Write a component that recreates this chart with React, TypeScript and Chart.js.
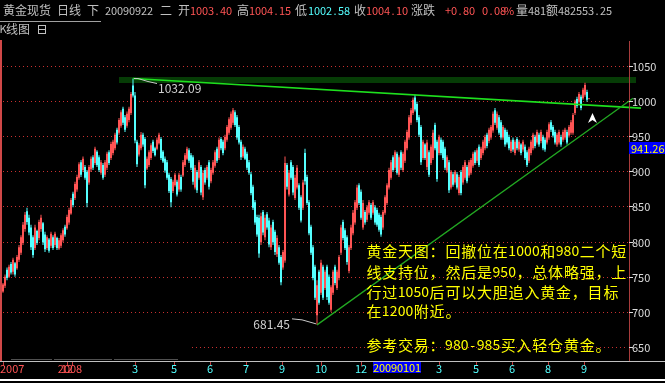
import React, { useEffect, useRef } from "react";
import { Chart, registerables } from "chart.js";

Chart.register(...registerables);

// ---- daily candles (about 1.6 trading days per bar), 2007-11 .. 2009-09-22 ----
const opens = [729,737,760,750,768,757,769,762,774,784,
798,818,843,834,820,806,791,815,805,818,
826,810,791,803,794,806,795,805,790,794,
802,821,819,827,840,868,862,874,891,913,
902,906,899,884,903,920,912,928,920,898,
909,895,905,927,919,926,933,959,955,965,
989,977,965,973,983,1022,1008,942,924,933,
952,946,904,909,919,942,933,932,940,946,
928,918,913,895,889,872,880,885,874,892,
894,909,918,930,923,920,877,899,891,906,
863,902,891,913,886,898,908,932,919,946,
942,933,945,955,962,969,984,977,963,942,
921,932,925,913,896,878,856,835,834,799,
842,806,839,830,792,828,814,782,792,778,
763,773,909,867,913,906,862,877,880,863,
848,926,892,856,821,792,764,695,757,727,
764,734,764,750,703,727,764,734,748,784,
828,816,806,758,791,812,827,848,880,871,
820,842,831,841,852,841,849,845,838,835,
820,841,855,877,891,920,905,925,895,927,
902,915,933,948,969,983,1005,996,977,963,
919,938,906,927,912,919,966,942,926,945,
942,932,901,913,877,896,884,896,869,899,
884,891,906,894,898,908,927,915,935,919,
926,933,952,943,948,958,987,962,977,970,
948,959,956,949,929,945,926,946,931,938,
931,935,927,915,926,933,949,941,952,943,
949,945,941,948,970,963,956,938,941,949,
945,948,956,951,955,955,983,1003,999,1006,
1004,1009,1013,1003.4];

const highs = [741,753,763,767,771,777,771,781,795,809,
828,842,848,838,824,809,824,817,831,838,
828,814,809,805,814,809,814,807,805,812,
819,824,838,848,862,871,885,895,913,916,
921,909,902,909,921,923,935,930,923,916,
912,916,928,930,942,945,955,962,976,987,
992,980,985,992,1013,1032.09,1013,945,940,956,
955,949,921,930,940,945,935,948,955,949,
930,921,916,898,892,888,898,888,898,895,
916,926,935,933,926,923,909,902,916,909,
902,905,909,916,905,916,930,935,948,949,
945,952,966,977,985,990,987,980,966,945,
938,935,928,916,899,881,859,838,838,841,
845,838,842,834,824,831,817,809,795,781,
788,921,912,902,916,909,895,909,883,866,
888,932,895,859,824,795,767,745,760,774,
767,760,767,753,738,760,767,760,781,824,
831,819,809,795,824,845,859,881,883,874,
859,845,852,859,855,859,852,848,841,838,
845,866,883,905,916,923,930,928,923,930,
928,945,959,980,990,1005,1009,999,980,966,
945,940,945,930,938,959,969,945,952,948,
945,935,923,916,902,899,902,899,895,902,
909,916,909,916,919,928,930,933,938,935,
945,952,955,962,966,985,990,985,980,973,
966,962,959,952,945,948,945,949,945,940,
945,938,930,935,945,955,952,959,955,959,
952,948,959,970,973,966,959,955,959,952,
959,962,959,966,973,983,1002,1006,1013,1009,
1019,1026,1016,1004.15];

const lows = [727,734,745,748,753,753,750,760,771,781,
795,814,824,809,788,777,788,795,802,814,
795,785,788,784,791,788,792,788,788,791,
799,807,817,824,838,849,859,871,888,892,
899,888,849,881,899,902,909,906,899,895,
888,892,902,909,916,923,930,938,952,962,
966,956,962,970,980,1005,940,906,921,930,
935,876,902,906,916,926,921,930,938,916,
912,898,888,869,849,869,878,864,871,871,
892,906,916,912,902,881,874,869,888,866,
859,881,888,874,883,895,905,912,916,930,
923,930,942,952,959,966,963,945,938,916,
919,916,902,895,866,845,824,807,777,795,
809,802,817,792,788,795,781,778,767,738,
760,770,874,864,888,866,859,874,845,827,
845,881,852,809,781,745,717,681.45,710,724,
717,731,717,710,700,724,738,731,745,781,
802,788,767,755,788,809,824,845,852,831,
817,824,828,838,831,838,824,821,814,807,
817,838,852,874,888,899,902,895,892,902,
899,912,930,945,966,980,985,970,949,909,
916,916,902,892,909,916,930,885,923,923,
916,902,898,869,874,878,881,874,866,866,
881,888,883,891,895,905,909,912,906,916,
923,930,933,940,945,955,966,959,952,945,
945,935,938,930,926,928,923,930,928,923,
928,916,906,912,923,930,933,938,935,940,
930,928,938,945,956,948,938,935,938,935,
942,945,938,948,952,952,980,990,997,987,
1002,1006,999,1002.58];

const closes = [739,750,748,764,756,774,753,778,792,806,
824,838,828,813,792,781,820,798,828,834,
799,789,806,787,811,791,811,791,802,809,
816,810,835,845,859,852,882,892,910,895,
918,891,855,906,918,905,932,909,902,913,
891,913,925,912,939,942,952,941,973,984,
969,959,982,989,1010,1008,944,910,937,952,
938,880,918,927,937,929,923,945,952,919,
914,901,891,872,856,885,895,867,895,874,
913,923,932,915,905,885,905,873,913,870,
898,884,906,878,902,913,927,915,945,933,
926,949,963,974,982,987,966,948,941,920,
935,918,905,898,869,848,827,810,783,836,
813,834,820,796,820,799,785,805,770,742,
785,912,878,898,891,870,891,905,848,830,
884,886,855,812,784,748,720,738,713,770,
720,757,721,713,735,757,741,757,778,820,
805,791,771,792,820,841,856,877,855,834,
855,827,849,856,834,856,827,824,817,810,
842,863,880,902,913,902,927,898,920,905,
925,942,956,977,987,1002,988,973,952,913,
942,919,941,895,935,955,933,889,949,926,
919,905,920,873,899,881,899,877,892,869,
906,913,886,913,916,925,912,930,909,932,
942,949,936,959,963,982,969,982,955,948,
963,938,941,933,942,931,942,933,942,926,
942,919,909,932,942,952,936,956,938,956,
933,931,956,967,959,951,941,952,956,938,
956,959,941,963,970,980,999,993,1010,990,
1016,1023,1002,1004.1];

const yTicks = [650, 700, 750, 800, 850, 900, 950, 1000, 1050];
const xTickLabels = ["2007", "12", "2008", "3", "5", "6", "7", "9", "10", "12", "3", "5", "6", "8", "9"];
const xTickIndex = [0, 32, 34.5, 66, 85.5, 103.5, 121.5, 139.5, 159, 179, 218, 236.5, 254.5, 272.5, 290.5];
const yearLabelCount = 3;
const boxDateLabel = "20090101";
const boxDateIndex = 185;

const peakIndex = 65;
const peakValue = 1032.09;
const lowIndex = 157;
const lowValue = 681.45;
const resistanceLine = [[65, 1032.09], [319, 990]];
const supportLine = [[157, 681.45], [315, 1004]];
const bandValue = 1030;
const bandRange = [58, 316.5];
const cursorValue = 941.26;

const headerName = "黄金现货";
const headerPeriod = "日线";
const headerDate = "20090922";
const headerWeekday = "二";
const headerChange = "+0.80";
const headerPct = "0.08%";
const headerVolume = "481";
const headerAmount = "482553.25";

const noteLines = [
  "黄金天图：回撤位在1000和980二个短",
  "线支持位，然后是950，总体略强，上",
  "行过1050后可以大胆追入黄金，目标",
  "在1200附近。",
  "",
  "参考交易：980-985买入轻仓黄金。",
];

const UP = "#ff5454";
const DOWN = "#54ffff";
const GRAY = "#c0c0c0";
const CJK = "'Noto Sans CJK SC'";

function cells(ctx: CanvasRenderingContext2D, text: string, x: number, y: number, wide: number, narrow: number, wideFont: string, narrowFont: string) {
  ctx.textAlign = "center";
  ctx.textBaseline = "middle";
  let cx = x;
  for (const ch of text) {
    const isWide = ch.charCodeAt(0) > 0x2e7f;
    const w = isWide ? wide : narrow;
    ctx.font = isWide ? wideFont : narrowFont;
    if (ch !== " ") ctx.fillText(ch, cx + w / 2, y);
    cx += w;
  }
  return cx;
}

const overlay = {
  id: "overlay",
  beforeDraw(chart: any) {
    const ctx = chart.ctx;
    ctx.save();
    ctx.fillStyle = "#000";
    ctx.fillRect(0, 0, chart.width, chart.height);
    ctx.restore();
  },
  beforeDatasetsDraw(chart: any) {
    const { ctx, chartArea: a, scales } = chart;
    const xs = scales.x, ys = scales.y;
    ctx.save();
    ctx.strokeStyle = "#c83030";
    ctx.lineWidth = 1;
    ctx.setLineDash([1, 3]);
    yTicks.forEach((v, k) => {
      const py = Math.round(ys.getPixelForValue(v)) + 0.5;
      const x0 = k === 0 ? 192 : a.left + 1;
      ctx.beginPath();
      ctx.moveTo(x0, py);
      ctx.lineTo(a.right - 1, py);
      ctx.stroke();
    });
    ctx.setLineDash([]);
    // faint dashes above the time axis
    ctx.fillStyle = "#505050";
    ctx.fillRect(11, 359, 41, 1);
    ctx.fillRect(54, 359, 58, 1);
    ctx.fillRect(114, 359, 64, 1);
    // dark green band at the top
    const by = ys.getPixelForValue(bandValue);
    const bx0 = xs.getPixelForValue(bandRange[0]);
    const bx1 = xs.getPixelForValue(bandRange[1]);
    ctx.fillStyle = "#063c06";
    ctx.fillRect(bx0, Math.round(by) - 3, bx1 - bx0, 6);
    ctx.restore();
  },
  afterDatasetsDraw(chart: any) {
    const { ctx, chartArea: a, scales } = chart;
    const xs = scales.x, ys = scales.y;
    const W = chart.width;
    ctx.save();

    // trend lines
    const seg = (pts: number[][], color: string, lw: number) => {
      ctx.strokeStyle = color;
      ctx.lineWidth = lw;
      ctx.beginPath();
      ctx.moveTo(xs.getPixelForValue(pts[0][0]), ys.getPixelForValue(pts[0][1]));
      ctx.lineTo(xs.getPixelForValue(pts[1][0]), ys.getPixelForValue(pts[1][1]));
      ctx.stroke();
    };
    seg(resistanceLine, "#1ee01e", 1.6);
    seg(supportLine, "#22a822", 1.3);

    // peak / low callouts
    ctx.strokeStyle = "#c8c8c8";
    ctx.lineWidth = 1;
    const px = xs.getPixelForValue(peakIndex), py = ys.getPixelForValue(peakValue);
    ctx.beginPath();
    ctx.moveTo(px + 1, py);
    ctx.lineTo(px + 5, py);
    ctx.lineTo(px + 15, py + 3);
    ctx.lineTo(px + 24, py + 5);
    ctx.stroke();
    const lx = xs.getPixelForValue(lowIndex), ly = ys.getPixelForValue(lowValue);
    ctx.beginPath();
    ctx.moveTo(lx - 1, ly - 1);
    ctx.lineTo(lx - 15, ly - 5);
    ctx.lineTo(lx - 25, ly - 6);
    ctx.stroke();
    ctx.fillStyle = "#d0d0d0";
    ctx.font = `12px ${CJK}`;
    ctx.textBaseline = "middle";
    ctx.textAlign = "left";
    ctx.fillText(peakValue.toFixed(2), px + 25, py + 10);
    ctx.textAlign = "right";
    ctx.fillText(lowValue.toFixed(2), lx - 27, ly);

    // mouse arrow
    ctx.fillStyle = "#ffffff";
    ctx.beginPath();
    ctx.moveTo(592.5, 113);
    ctx.lineTo(588, 123);
    ctx.lineTo(592.5, 120);
    ctx.lineTo(597, 123);
    ctx.closePath();
    ctx.fill();

    // yellow notes
    ctx.save();
    ctx.beginPath();
    ctx.rect(0, a.top, a.right - 1, a.bottom - a.top);
    ctx.clip();
    ctx.fillStyle = "#ffff00";
    const noteY = [251, 272, 292, 311, 328, 345];
    noteLines.forEach((t, k) => {
      if (t) cells(ctx, t, 366, noteY[k], 15.8, 7.9, `15px ${CJK}`, `14px ${CJK}`);
    });
    ctx.restore();

    // frame
    ctx.fillStyle = "#d04848";
    ctx.fillRect(0, a.top - 1, 2, a.bottom - a.top + 1);
    ctx.fillStyle = "#a83c3c";
    ctx.fillRect(a.right, a.top, 1, a.bottom - a.top);
    ctx.fillStyle = GRAY;
    ctx.fillRect(0, a.bottom, W, 1);
    ctx.fillStyle = "#ffffff";
    ctx.fillRect(0, 379, W, 2);

    // y labels
    ctx.font = `11px ${CJK}`;
    ctx.textAlign = "left";
    ctx.textBaseline = "middle";
    yTicks.forEach((v) => {
      const y = Math.round(ys.getPixelForValue(v));
      ctx.fillStyle = "#dcdcdc";
      ctx.fillRect(a.right, y, 4, 1);
      ctx.fillText(String(v), a.right + 3, y + 0.5);
    });
    const cy = Math.round(ys.getPixelForValue(cursorValue));
    ctx.fillStyle = "#0000ff";
    ctx.fillRect(a.right, cy, W - a.right, 12);
    ctx.fillStyle = "#ffff00";
    ctx.fillText(cursorValue.toFixed(2), a.right + 2, cy + 6.5);

    // x labels
    xTickLabels.forEach((lab, k) => {
      const x = Math.round(xs.getPixelForValue(xTickIndex[k]));
      ctx.fillStyle = "#c03c3c";
      ctx.fillRect(x, a.bottom + 1, 1, 4);
      ctx.fillStyle = k < yearLabelCount ? UP : DOWN;
      if (k === 0) {
        ctx.textAlign = "left";
        ctx.fillText(lab, 0, 369);
      } else {
        ctx.textAlign = "center";
        ctx.fillText(lab, lab.length === 4 ? x - 2 : x, 369);
      }
    });
    const bx = Math.round(xs.getPixelForValue(boxDateIndex));
    ctx.fillStyle = "#0000ff";
    ctx.fillRect(bx, 362, 48, 11);
    ctx.fillStyle = "#ffff00";
    cells(ctx, boxDateLabel, bx, 368, 12, 6, `12px ${CJK}`, `11px ${CJK}`);

    // header
    const last = opens.length - 1;
    const hdr: [string, number, string][] = [
      [headerName, 3, GRAY], [headerPeriod, 57, GRAY], ["下", 87, GRAY], [headerDate, 105, GRAY],
      [headerWeekday, 160, GRAY], ["开", 178, GRAY], [opens[last].toFixed(2), 190, UP],
      ["高", 237, GRAY], [highs[last].toFixed(2), 249, UP],
      ["低", 295, GRAY], [lows[last].toFixed(2), 308, DOWN],
      ["收", 354, GRAY], [closes[last].toFixed(2), 366, UP],
      ["涨跌", 411, GRAY], [headerChange, 445, UP], [headerPct, 482, UP],
      ["量" + headerVolume, 516, GRAY], ["额" + headerAmount, 546, GRAY],
    ];
    hdr.forEach(([t, x, c]) => {
      ctx.fillStyle = c;
      cells(ctx, t, x, 10.5, 12, 6, `12px ${CJK}`, `11px ${CJK}`);
    });
    ctx.fillStyle = "#a0a0a0";
    ctx.fillRect(0, 21, 101, 1);
    ctx.fillStyle = GRAY;
    cells(ctx, "K线图", 0, 29, 12, 6, `12px ${CJK}`, `11px ${CJK}`);
    ctx.strokeStyle = GRAY;
    ctx.lineWidth = 1;
    ctx.strokeRect(38.5, 25.5, 7, 8);
    ctx.beginPath();
    ctx.moveTo(38.5, 29.5);
    ctx.lineTo(45.5, 29.5);
    ctx.stroke();

    ctx.restore();
  },
};

export default function App() {
  const ref = useRef<HTMLCanvasElement | null>(null);
  useEffect(() => {
    document.body.style.margin = "0";
    document.body.style.background = "#000";
    const canvas = ref.current;
    if (!canvas) return;
    const colors = opens.map((o, i) => (closes[i] >= o ? UP : DOWN));
    const chart = new Chart(canvas, {
      type: "bar",
      data: {
        datasets: [
          {
            label: "wick",
            data: highs.map((h, i) => ({ x: i, y: [lows[i], h] })) as any,
            backgroundColor: colors,
            barThickness: 1,
            grouped: false,
            inflateAmount: 0,
            order: 2,
          } as any,
          {
            label: "body",
            data: opens.map((o, i) => ({ x: i, y: [Math.min(o, closes[i]), Math.max(o, closes[i])] })) as any,
            backgroundColor: colors,
            barThickness: 2,
            grouped: false,
            inflateAmount: 0,
            order: 1,
          } as any,
        ],
      },
      options: {
        responsive: false,
        animation: false,
        devicePixelRatio: 1,
        events: [],
        layout: { padding: { left: 2, right: 36, top: 41, bottom: 22 } },
        scales: {
          x: { type: "linear", min: -0.5, max: 313, offset: false, display: false },
          y: { type: "linear", min: 630, max: 1085.5, display: false },
        },
        plugins: { legend: { display: false }, tooltip: { enabled: false } },
      },
      plugins: [overlay as any],
    });
    return () => chart.destroy();
  }, []);
  return (
    <div style={{ width: 665, height: 383, background: "#000" }}>
      <canvas ref={ref} width={665} height={383} style={{ display: "block" }} />
    </div>
  );
}
